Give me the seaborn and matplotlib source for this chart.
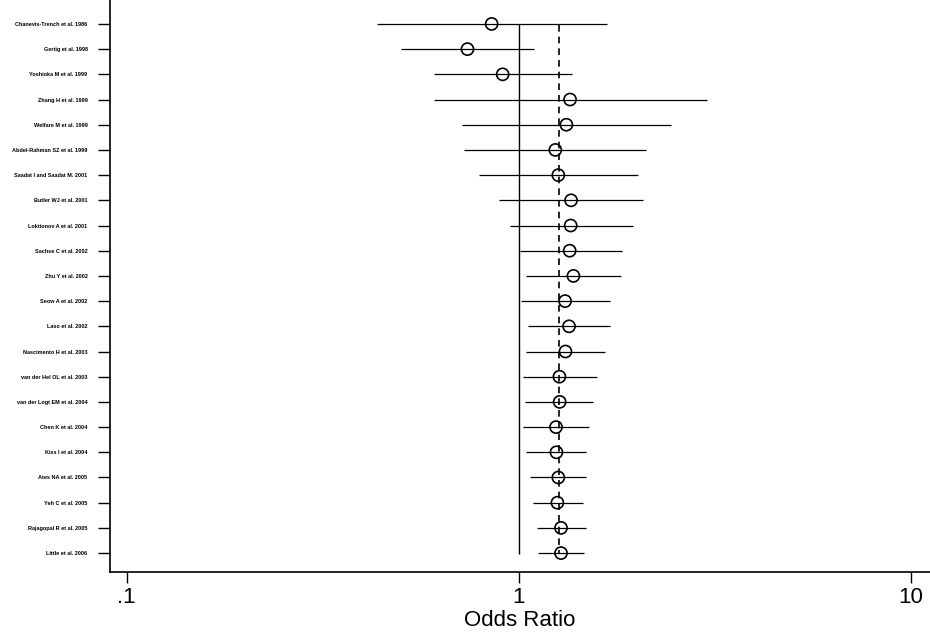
import numpy as np
import pandas as pd
import matplotlib
matplotlib.use("Agg")
import matplotlib.pyplot as plt
import matplotlib.ticker as mticker
import seaborn as sns

studies = [
    "Chanevis-Trench et al. 1986",
    "Gertig et al. 1998",
    "Yoshioka M et al. 1999",
    "Zhang H et al. 1999",
    "Welfare M et al. 1999",
    "Abdel-Rahman SZ et al. 1999",
    "Saadat I and Saadat M. 2001",
    "Butler WJ et al. 2001",
    "Loktionov A et al. 2001",
    "Sachse C et al. 2002",
    "Zhu Y et al. 2002",
    "Seow A et al. 2002",
    "Laso et al. 2002",
    "Nascimento H et al. 2003",
    "van der Hel OL et al. 2003",
    "van der Logt EM et al. 2004",
    "Chen K et al. 2004",
    "Kiss I et al. 2004",
    "Ates NA et al. 2005",
    "Yeh C et al. 2005",
    "Rajagopal R et al. 2005",
    "Little et al. 2006",
]
odds_ratio = [0.853, 0.740, 0.910, 1.352, 1.323, 1.240, 1.262, 1.360, 1.357, 1.349, 1.379,
              1.313, 1.344, 1.316, 1.270, 1.272, 1.245, 1.248, 1.262, 1.255, 1.282, 1.282]
ci_low = [0.434, 0.502, 0.607, 0.607, 0.716, 0.725, 0.794, 0.893, 0.950, 1.006, 1.042,
          1.016, 1.054, 1.044, 1.028, 1.038, 1.028, 1.044, 1.069, 1.086, 1.114, 1.118]
ci_high = [1.677, 1.092, 1.370, 3.030, 2.452, 2.117, 2.016, 2.080, 1.957, 1.830, 1.828,
           1.707, 1.710, 1.657, 1.580, 1.550, 1.509, 1.485, 1.488, 1.459, 1.488, 1.470]
pooled_or = 1.27
x_ticks = [0.1, 1, 10]
x_tick_labels = [".1", "1", "10"]

df = pd.DataFrame({"study": studies, "or": odds_ratio, "lo": ci_low, "hi": ci_high})
df["pos"] = np.arange(len(df))

sns.set_style("white")
plt.rcParams["font.family"] = ["Liberation Sans", "DejaVu Sans"]
plt.rcParams["text.color"] = "black"
plt.rcParams["axes.labelcolor"] = "black"
plt.rcParams["xtick.color"] = "black"
plt.rcParams["ytick.color"] = "black"

fig = plt.figure(figsize=(9.3, 6.33), dpi=100)
ax = fig.add_axes([0.118, 0.0964, 0.882, 0.9036])

ax.set_xscale("log")
n = len(df)
# reference lines: null effect and pooled estimate
ax.vlines(1, 0, n - 1 + 0.05, color="black", lw=1.0, zorder=1)
ax.vlines(pooled_or, 0.05, n - 1, color="black", lw=1.2, linestyles=(0, (4, 3)), zorder=1)

# confidence intervals
ax.hlines(df["pos"], df["lo"], df["hi"], color="black", lw=0.9, zorder=2)

# point estimates
sns.scatterplot(data=df, x="or", y="pos", ax=ax, marker="o", s=76,
                facecolor="none", edgecolor="black", linewidth=1.2, zorder=3, legend=False)

ax.set_xlim(0.0905, 11.2)
ax.set_ylim(n - 1 + 0.75, -0.95)

ax.set_yticks(df["pos"])
ax.set_yticklabels(df["study"], fontsize=4, fontweight="bold")
ax.xaxis.set_major_locator(mticker.FixedLocator(x_ticks))
ax.xaxis.set_minor_locator(mticker.NullLocator())
ax.set_xticklabels(x_tick_labels, fontsize=16)

ax.tick_params(axis="y", direction="out", length=9, width=1.0, pad=7, left=True,
               color="black", labelcolor="black")
ax.tick_params(axis="x", direction="out", length=8, width=1.0, pad=3, bottom=True,
               color="black", labelcolor="black")

ax.set_xlabel("Odds Ratio", fontsize=16, labelpad=1, color="black")
ax.set_ylabel("")

for side in ["top", "right"]:
    ax.spines[side].set_visible(False)
for side in ["left", "bottom"]:
    ax.spines[side].set_color("black")
    ax.spines[side].set_linewidth(1.2)

fig.savefig("out.png", dpi=100, facecolor="white")
